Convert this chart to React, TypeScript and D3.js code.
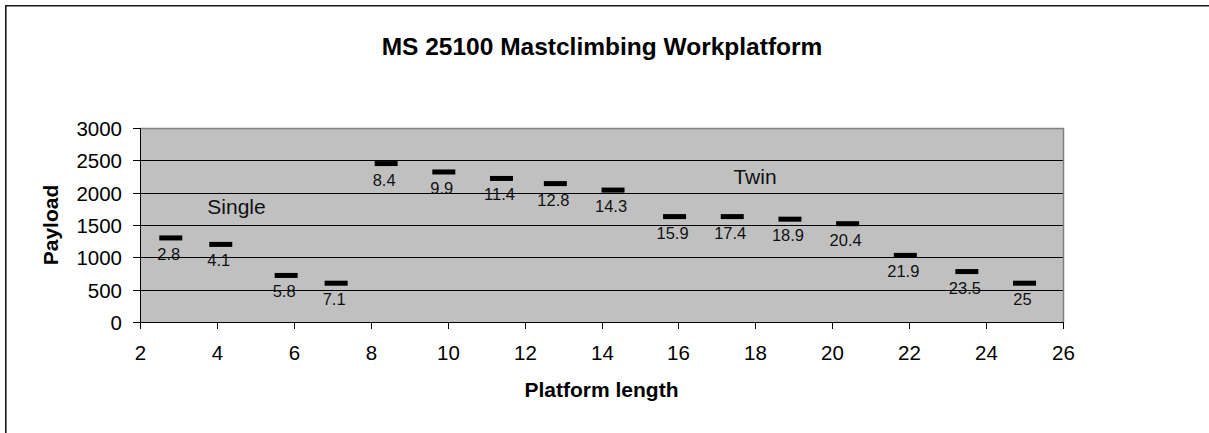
import React, { useEffect, useRef } from "react";
import * as d3 from "d3";

// platform length (m) and payload (kg)
const lengths = [2.8, 4.1, 5.8, 7.1, 8.4, 9.9, 11.4, 12.8, 14.3, 15.9, 17.4, 18.9, 20.4, 21.9, 23.5, 25];
const payloads = [1300, 1200, 720, 600, 2450, 2320, 2220, 2140, 2040, 1630, 1630, 1590, 1520, 1030, 780, 600];

const xTicks = [2, 4, 6, 8, 10, 12, 14, 16, 18, 20, 22, 24, 26];
const yTicks = [0, 500, 1000, 1500, 2000, 2500, 3000];

// text boxes placed in data space
const notes = [
  { text: "Single", x: 3.75, y: 1670 },
  { text: "Twin", x: 17.43, y: 2130 },
];

const W = 1209,
  H = 433;
const FONT = "'Liberation Sans', Arial, Helvetica, sans-serif";

export default function App() {
  const svgRef = useRef<SVGSVGElement>(null);

  useEffect(() => {
    const svg = d3.select(svgRef.current);
    svg.selectChildren().remove();

    const plot = { left: 140, top: 128, right: 1063, bottom: 322 };

    const x = d3.scaleLinear().domain([2, 26]).range([plot.left, plot.right]);
    const y = d3.scaleLinear().domain([0, 3000]).range([plot.bottom, plot.top]);

    // outer chart frame: only the top and left edges are in the picture
    svg
      .append("path")
      .attr("d", `M5.8,${H}V5.8H${W}`)
      .attr("fill", "none")
      .attr("stroke", "#1a1a1a")
      .attr("stroke-width", 1.6);

    svg
      .append("text")
      .attr("x", 602)
      .attr("y", 54.5)
      .attr("text-anchor", "middle")
      .attr("font-family", FONT)
      .attr("font-weight", "bold")
      .attr("font-size", 24.5)
      .text("MS 25100 Mastclimbing Workplatform");

    // plot background
    svg
      .append("rect")
      .attr("x", plot.left)
      .attr("y", plot.top)
      .attr("width", plot.right - plot.left)
      .attr("height", plot.bottom - plot.top)
      .attr("fill", "#c0c0c0");

    // gridlines
    svg
      .append("g")
      .selectAll("line")
      .data(yTicks.filter((d) => d > 0 && d < 3000))
      .enter()
      .append("line")
      .attr("x1", plot.left)
      .attr("x2", plot.right)
      .attr("y1", (d) => Math.round(y(d)) + 0.5)
      .attr("y2", (d) => Math.round(y(d)) + 0.5)
      .attr("stroke", "#000")
      .attr("stroke-width", 1);

    // gray top/right edge of plot area
    svg
      .append("path")
      .attr(
        "d",
        `M${plot.left},${plot.top + 0.5}H${plot.right + 0.5}V${plot.bottom}`
      )
      .attr("fill", "none")
      .attr("stroke", "#808080")
      .attr("stroke-width", 1.5);

    // y axis
    const yAxis = svg.append("g");
    yAxis
      .append("line")
      .attr("x1", plot.left + 0.5)
      .attr("x2", plot.left + 0.5)
      .attr("y1", plot.top)
      .attr("y2", plot.bottom)
      .attr("stroke", "#000");
    const yt = yAxis
      .selectAll("g.tick")
      .data(yTicks)
      .enter()
      .append("g")
      .attr("class", "tick")
      .attr("transform", (d) => `translate(0,${Math.round(y(d)) + 0.5})`);
    yt.append("line")
      .attr("x1", plot.left - 7)
      .attr("x2", plot.left)
      .attr("stroke", "#000");
    yt.append("text")
      .attr("x", 122)
      .attr("dy", "0.35em")
      .attr("text-anchor", "end")
      .attr("font-family", FONT)
      .attr("font-size", 20.5)
      .text((d) => d);

    // x axis
    const xAxis = svg.append("g");
    xAxis
      .append("line")
      .attr("x1", plot.left)
      .attr("x2", plot.right + 1)
      .attr("y1", plot.bottom + 0.5)
      .attr("y2", plot.bottom + 0.5)
      .attr("stroke", "#000");
    const xt = xAxis
      .selectAll("g.tick")
      .data(xTicks)
      .enter()
      .append("g")
      .attr("class", "tick")
      .attr("transform", (d) => `translate(${Math.round(x(d)) + 0.5},0)`);
    xt.append("line")
      .attr("y1", plot.bottom)
      .attr("y2", plot.bottom + 7)
      .attr("stroke", "#000");
    xt.append("text")
      .attr("y", 360)
      .attr("text-anchor", "middle")
      .attr("font-family", FONT)
      .attr("font-size", 20.5)
      .text((d) => d);

    // axis titles
    svg
      .append("text")
      .attr("transform", `translate(58,${(plot.top + plot.bottom) / 2}) rotate(-90)`)
      .attr("text-anchor", "middle")
      .attr("font-family", FONT)
      .attr("font-weight", "bold")
      .attr("font-size", 21)
      .text("Payload");

    svg
      .append("text")
      .attr("x", (plot.left + plot.right) / 2)
      .attr("y", 397)
      .attr("text-anchor", "middle")
      .attr("font-family", FONT)
      .attr("font-weight", "bold")
      .attr("font-size", 21)
      .text("Platform length");

    const pts = lengths.map((l, i) => ({ l, p: payloads[i] }));

    // dash markers
    svg
      .append("g")
      .selectAll("rect")
      .data(pts)
      .enter()
      .append("rect")
      .attr("x", (d) => x(d.l) - 11.5)
      .attr("y", (d) => y(d.p) - 2.5)
      .attr("width", 23)
      .attr("height", 5)
      .attr("fill", "#000");

    // data labels (the x value under each dash)
    svg
      .append("g")
      .selectAll("text")
      .data(pts)
      .enter()
      .append("text")
      .attr("x", (d) => x(d.l) - 2)
      .attr("y", (d) => y(d.p) + 22)
      .attr("text-anchor", "middle")
      .attr("font-family", FONT)
      .attr("font-size", 16.5)
      .attr("fill", "#111")
      .text((d) => d.l);

    svg
      .append("g")
      .selectAll("text")
      .data(notes)
      .enter()
      .append("text")
      .attr("x", (d) => x(d.x))
      .attr("y", (d) => y(d.y))
      .attr("font-family", FONT)
      .attr("font-size", 21)
      .attr("fill", "#111")
      .text((d) => d.text);
  }, []);

  return (
    <div style={{ position: "absolute", left: 0, top: 0 }}>
      <svg ref={svgRef} width={W} height={H} style={{ display: "block" }} />
    </div>
  );
}
